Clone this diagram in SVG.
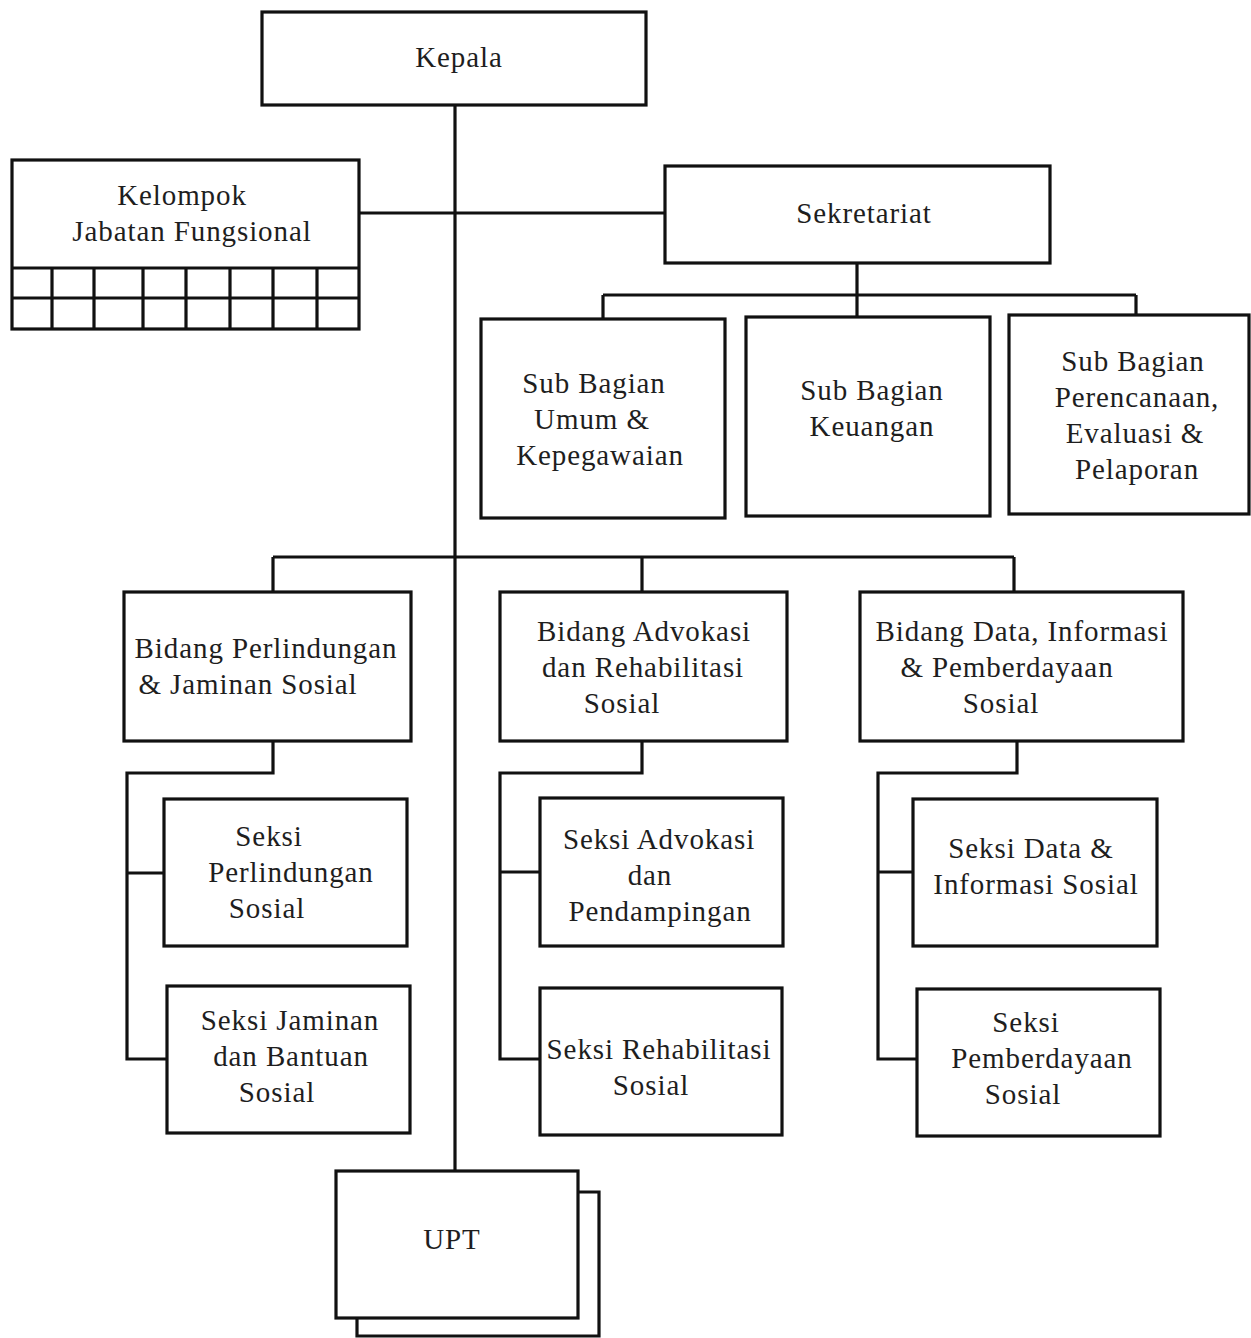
<svg xmlns="http://www.w3.org/2000/svg" width="1251" height="1338" viewBox="0 0 1251 1338">
<style>
.box{fill:#fff;stroke:#111;stroke-width:3.2}
.ln{fill:none;stroke:#111;stroke-width:3.2}
text{font-family:"Liberation Serif","Times New Roman",serif;font-size:29px;fill:#1e1e1e;text-anchor:middle;letter-spacing:0.9px}
</style>
<rect width="1251" height="1338" fill="#fff"/>
<g id="connectors">
<path class="ln" d="M455 105V1171"/>
<path class="ln" d="M359 213H665"/>
<path class="ln" d="M857 263V295M603 295H1136M603 295V319M857 295V317M1136 295V315"/>
<path class="ln" d="M273 557H1014M273 557V592M642 557V592M1014 557V592"/>
<path class="ln" d="M273 741V773H127V1059H167M127 873H164"/>
<path class="ln" d="M642 741V773H500V1059H540M500 872H540"/>
<path class="ln" d="M1017 741V773H878V1059H917M878 872H913"/>
</g>
<g id="kepala"><rect class="box" x="262" y="12" width="384" height="93"/><text x="459" y="67">Kepala</text></g>
<g id="kelompok">
<rect class="box" x="12" y="160" width="347" height="169"/>
<path class="ln" d="M12 268H359M12 298H359M52 268V329M94 268V329M143 268V329M186 268V329M230 268V329M273 268V329M317 268V329"/>
<text x="182" y="205">Kelompok</text><text x="192" y="241">Jabatan Fungsional</text>
</g>
<g id="sekretariat"><rect class="box" x="665" y="166" width="385" height="97"/><text x="864" y="223">Sekretariat</text></g>
<g id="sub-umum"><rect class="box" x="481" y="319" width="244" height="199"/><text x="594" y="393">Sub Bagian</text><text x="592" y="429">Umum &amp;</text><text x="600" y="465">Kepegawaian</text></g>
<g id="sub-keuangan"><rect class="box" x="746" y="317" width="244" height="199"/><text x="872" y="400">Sub Bagian</text><text x="872" y="436">Keuangan</text></g>
<g id="sub-perencanaan"><rect class="box" x="1009" y="315" width="240" height="199"/><text x="1133" y="371">Sub Bagian</text><text x="1137" y="407">Perencanaan,</text><text x="1135" y="443">Evaluasi &amp;</text><text x="1137" y="479">Pelaporan</text></g>
<g id="bidang-perlindungan"><rect class="box" x="124" y="592" width="287" height="149"/><text x="266" y="658">Bidang Perlindungan</text><text x="248" y="694">&amp; Jaminan Sosial</text></g>
<g id="bidang-advokasi"><rect class="box" x="500" y="592" width="287" height="149"/><text x="644" y="641">Bidang Advokasi</text><text x="643" y="677">dan Rehabilitasi</text><text x="622" y="713">Sosial</text></g>
<g id="bidang-data"><rect class="box" x="860" y="592" width="323" height="149"/><text x="1022" y="641">Bidang Data, Informasi</text><text x="1007" y="677">&amp; Pemberdayaan</text><text x="1001" y="713">Sosial</text></g>
<g id="seksi-perlindungan"><rect class="box" x="164" y="799" width="243" height="147"/><text x="269" y="846">Seksi</text><text x="291" y="882">Perlindungan</text><text x="267" y="918">Sosial</text></g>
<g id="seksi-jaminan"><rect class="box" x="167" y="986" width="243" height="147"/><text x="290" y="1030">Seksi Jaminan</text><text x="291" y="1066">dan Bantuan</text><text x="277" y="1102">Sosial</text></g>
<g id="seksi-advokasi"><rect class="box" x="540" y="798" width="243" height="148"/><text x="659" y="849">Seksi Advokasi</text><text x="650" y="885">dan</text><text x="660" y="921">Pendampingan</text></g>
<g id="seksi-rehabilitasi"><rect class="box" x="540" y="988" width="242" height="147"/><text x="659" y="1059">Seksi Rehabilitasi</text><text x="651" y="1095">Sosial</text></g>
<g id="seksi-data"><rect class="box" x="913" y="799" width="244" height="147"/><text x="1031" y="858">Seksi Data &amp;</text><text x="1036" y="894">Informasi Sosial</text></g>
<g id="seksi-pemberdayaan"><rect class="box" x="917" y="989" width="243" height="147"/><text x="1026" y="1032">Seksi</text><text x="1042" y="1068">Pemberdayaan</text><text x="1023" y="1104">Sosial</text></g>
<g id="upt">
<path class="ln" d="M578 1192H599V1336H357V1318"/>
<rect class="box" x="336" y="1171" width="242" height="147"/>
<text x="452" y="1249">UPT</text>
</g>
</svg>
